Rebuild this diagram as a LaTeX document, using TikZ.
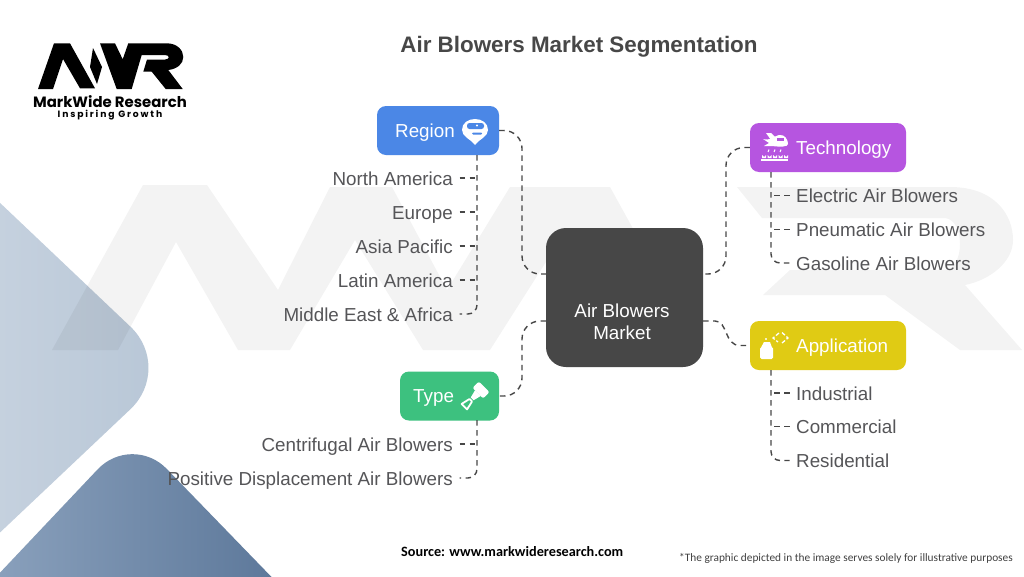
\documentclass[tikz,border=0pt]{standalone}
\usepackage{fontspec}
\setmainfont{Liberation Sans}
\newfontfamily\logofont{Poppins}
\newfontfamily\logotag{Poppins}[LetterSpace=20]
\newfontfamily\notefont{Carlito}
\usetikzlibrary{arrows.meta, positioning, shapes}
\definecolor{hubgray}{HTML}{474747}
\definecolor{inkgray}{HTML}{555558}
\definecolor{regionblue}{HTML}{4B87E6}
\definecolor{techpurple}{HTML}{B655E0}
\definecolor{appyellow}{HTML}{E0CB14}
\definecolor{typegreen}{HTML}{3DC17F}
\definecolor{paleleft}{HTML}{CDD7E3}
\definecolor{paleright}{HTML}{B7C6D6}
\definecolor{deepleft}{HTML}{8FA5C0}
\definecolor{deepright}{HTML}{567295}

\begin{document}
\begin{tikzpicture}[
    x=1pt, y=-1pt,
    box style/.style={rectangle, rounded corners=9pt, inner sep=0pt, minimum height=49pt},
    box text/.style={text=white, anchor=west, inner sep=0pt, text height=14pt, text depth=2pt, font=\fontsize{18.8}{22}\selectfont},
    item left/.style={text=inkgray, anchor=east, inner ysep=0pt, inner xsep=6.5pt, text height=16pt, text depth=2pt, font=\fontsize{18.8}{22}\selectfont},
    item right/.style={text=inkgray, anchor=west, inner ysep=0pt, inner xsep=6.5pt, text height=16pt, text depth=2pt, font=\fontsize{18.8}{22}\selectfont},
    link style/.style={draw=hubgray, line width=1.4pt, dash pattern=on 5.5pt off 4.5pt}
]
    \useasboundingbox (0,0) rectangle (1024,576);
    \clip (0,0) rectangle (1024,576);
    \fill[white] (0,0) rectangle (1024,576);

    % corner shapes
    \path[rounded corners=60pt, left color=paleleft, right color=paleright]
        (-100,108) -- (174,368) -- (-100,627) -- cycle;
    \path[rounded corners=50pt, left color=deepleft, right color=deepright]
        (-40,615) -- (132,433) -- (320,627) -- cycle;

    % watermark
    \fill[black, opacity=0.048] (52,350) -- (143,185) -- (207,185) -- (278,290) -- (330,187) -- (392,187) -- (447,290) -- (510,187) -- (610,187) -- (700,350) -- (640,350) -- (565,232) -- (490,350) -- (423,350) -- (355,240) -- (290,350) -- (238,350) -- (176,242) -- (118,350) -- cycle;
    \fill[black, opacity=0.048] (737,187) -- (950,187) .. controls (995,187) and (1013,215) .. (1013,240) .. controls (1013,262) and (990,280) .. (965,285) -- (1022,350) -- (960,350) -- (885,295) -- (763,295) -- (790,270) -- (945,270) .. controls (965,268) and (965,220) .. (945,218) -- (762,218) -- cycle;

    % logo
    \fill[black] (38,89) -- (54,43.3) -- (70,43.3) -- (95,88.3) -- (80,88.3) -- (63,59) -- (53,89) -- cycle;
    \fill[black] (93,48) -- (102,67) -- (97,84) -- (90,67) -- cycle;
    \fill[black] (100,43.3) -- (115,43.3) -- (122.7,59.3) -- (128.3,43.3) -- (166.7,43.3) .. controls (177,43.3) and (183.3,50) .. (183.3,57) .. controls (183.3,64) and (177,69) .. (168.3,70) -- (182.7,89) -- (165.7,89) -- (151.7,71.7) -- (143.3,71.7) -- (147,59.5) -- (165,59.5) .. controls (170,59.5) and (170,55) .. (165,55) -- (141.7,55) -- (131.7,89) -- (116.7,89) -- cycle;
    \node[inner sep=0pt] (logo name) at (110,101.5) {\logofont\bfseries\fontsize{14.9}{16}\selectfont MarkWide Research};
    \node[inner sep=0pt] (logo tag) at (110,115.5) {\logotag\bfseries\fontsize{9.2}{10}\selectfont Inspiring Growth};

    \node[inner sep=0pt, text=hubgray] (title) at (579,46.5) {\bfseries\fontsize{22.4}{26}\selectfont Air Blowers Market Segmentation};

    % hub and boxes
    \node[box style, fill=hubgray, rounded corners=20pt, minimum width=157pt, minimum height=139pt] (hub) at (624.5,297.5) {};
    \node[text=white, align=center, inner sep=0pt, font=\fontsize{18.8}{22}\selectfont] (hub label) at (622,322) {Air Blowers\\Market};
    \node[box style, fill=regionblue, minimum width=122pt] (region) at (438,130.5) {};
    \node[box style, fill=techpurple, minimum width=156pt] (technology) at (828,147.5) {};
    \node[box style, fill=appyellow, minimum width=156pt] (application) at (828,345.5) {};
    \node[box style, fill=typegreen, minimum width=99pt] (type) at (449.5,396) {};
    \node[box text] (region label) at (395,131) {Region};
    \node[box text] (technology label) at (796,148) {Technology};
    \node[box text] (application label) at (796,346) {Application};
    \node[box text] (type label) at (413,396) {Type};

    % items
    \node[item left] (north america) at (459.5,178) {North America};
    \node[item left] (europe) at (459.5,212) {Europe};
    \node[item left] (asia pacific) at (459.5,246) {Asia Pacific};
    \node[item left] (latin america) at (459.5,280) {Latin America};
    \node[item left] (middle east) at (459.5,314) {Middle East \& Africa};
    \node[item left] (centrifugal) at (459.5,444) {Centrifugal Air Blowers};
    \node[item left] (positive) at (459.5,478) {Positive Displacement Air Blowers};
    \node[item right] (electric) at (789.5,195.5) {Electric Air Blowers};
    \node[item right] (pneumatic) at (789.5,229.5) {Pneumatic Air Blowers};
    \node[item right] (gasoline) at (789.5,263) {Gasoline Air Blowers};
    \node[item right] (industrial) at (789.5,393) {Industrial};
    \node[item right] (commercial) at (789.5,426.5) {Commercial};
    \node[item right] (residential) at (789.5,460.5) {Residential};

    \coordinate (hub west a) at (546,274);
    \coordinate (hub west b) at (546,321);
    \coordinate (hub east a) at (703,274);
    \coordinate (hub east b) at (703,321);
    \coordinate (region stem) at (477,155);
    \coordinate (type stem) at (477,420);
    \coordinate (technology stem) at (771,172);
    \coordinate (application stem) at (771,370);

    % hub links
    \draw[link style, rounded corners=18pt] (region.east) -- (522,130.5) -- (522,274) -- (hub west a);
    \draw[link style, rounded corners=18pt] (hub west b) -- (522,321) -- (522,396) -- (type.east);
    \draw[link style, rounded corners=18pt] (technology.west) -- (726,147.5) -- (726,274) -- (hub east a);
    \draw[link style] (hub east b) -- (715,321) .. controls (728,321) and (724,345.5) .. (740,345.5) -- (application.west);

    % stems
    \draw[link style, rounded corners=9pt] (region stem) -- (region stem |- middle east.east) -- (middle east.east);
    \draw[link style, rounded corners=9pt] (type stem) -- (type stem |- positive.east) -- (positive.east);
    \draw[link style, rounded corners=9pt] (technology stem) -- (technology stem |- gasoline.west) -- (gasoline.west);
    \draw[link style, rounded corners=9pt] (application stem) -- (application stem |- residential.west) -- (residential.west);
    \foreach \item in {north america, europe, asia pacific, latin america}
        \draw[link style] (\item.east) -- (\item.east -| region stem);
    \draw[link style] (centrifugal.east) -- (centrifugal.east -| type stem);
    \foreach \item in {electric, pneumatic}
        \draw[link style] (\item.west) -- (\item.west -| technology stem);
    \foreach \item in {industrial, commercial}
        \draw[link style] (\item.west) -- (\item.west -| application stem);

    % region icon
    \fill[white] (475,145) .. controls (471,139) and (462,137) .. (462,130) .. controls (462,123) and (468,119) .. (475,119) .. controls (482,119) and (488,123) .. (488,130) .. controls (488,137) and (479,139) .. (475,145) -- cycle;
    \fill[regionblue, rounded corners=2.5pt] (467,123) rectangle (484,129);
    \fill[white] (477,125.5) circle (1.2pt);
    \fill[regionblue, rounded corners=1pt] (472,132.5) rectangle (482,134.5);

    % technology icon
    \fill[white] (763,139) .. controls (770,141) and (772,137) .. (779,135) .. controls (785,134) and (788,140) .. (788,144) .. controls (788,147) and (780,147) .. (772,146) -- (764,146) -- (769,143) -- cycle;
    \fill[white] (766,133) -- (771,133) -- (776,138) -- (771,140) -- cycle;
    \fill[techpurple] (777,138) rectangle (784,141);
    \foreach \dropx in {768,774,780}
        \draw[white, line width=1pt] (\dropx,152) -- (\dropx+1,149.5);
    \foreach \flowerx in {764,769.5,775,780.5,786}
        \fill[white] (\flowerx-2,155) -- (\flowerx,157) -- (\flowerx+2,155) -- (\flowerx+2,158) -- (\flowerx-2,158) -- cycle;
    \fill[white] (760.5,159) rectangle (788,161);

    % application icon
    \fill[white, rounded corners=1.5pt] (760,359) rectangle (773,347);
    \fill[white] (761,347.5) -- (764,342) -- (770,342) -- (772,347.5) -- cycle;
    \fill[white] (766,339) circle (1.2pt);
    \draw[white, line width=1.3pt, dash pattern=on 4pt off 2pt] (782,332.5) -- (788,338) -- (782,343);
    \draw[white, line width=1.3pt, dash pattern=on 4pt off 2pt] (779,333) -- (773,338) -- (778,342);

    % type icon
    \begin{scope}[shift={(476.4,394.6)}, rotate=45]
        \fill[white, rounded corners=2pt] (2,-7.5) rectangle (11,7.5);
        \fill[white] (2,-4) -- (-6,-2) -- (-6,2) -- (2,4) -- cycle;
        \fill[white, rounded corners=1pt] (-7,-2.5) -- (-18,-5) -- (-18,5) -- (-7,2.5) -- cycle;
        \fill[typegreen] (-9,-1) -- (-16,-2.5) -- (-16,2.5) -- (-9,1) -- cycle;
    \end{scope}

    \node[inner sep=0pt, anchor=west] (source) at (401,551.5) {\notefont\bfseries\fontsize{14.25}{16}\selectfont Source: www.markwideresearch.com};
    \node[inner sep=0pt, anchor=east, text=black!75] (note) at (1013,558.5) {\notefont\fontsize{11.35}{14}\selectfont *The graphic depicted in the image serves solely for illustrative purposes};
\end{tikzpicture}
\end{document}
